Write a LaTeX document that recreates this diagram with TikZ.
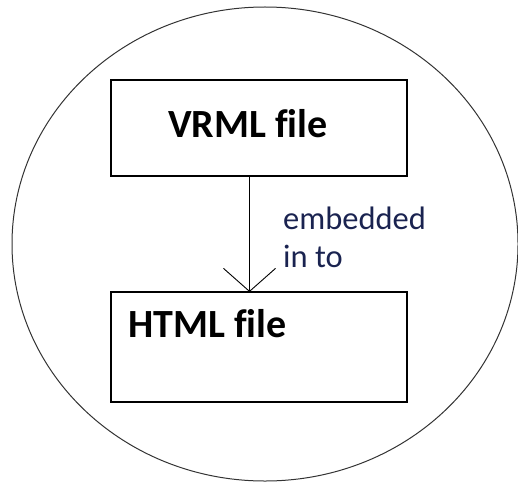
\documentclass[tikz,border=0pt]{standalone}
\usepackage{fontspec}
\setmainfont[Ligatures=NoCommon]{Carlito}
\usetikzlibrary{arrows.meta}
\definecolor{labelblue}{HTML}{1A2350}
\tikzset{
  filebox/.style={draw=black, line width=1.5pt, minimum width=296pt, inner sep=0pt},
  boxtitle/.style={anchor=base west, inner sep=0pt, font=\fontsize{40}{44}\selectfont\bfseries},
  edgelabel/.style={anchor=base west, inner sep=0pt, text=labelblue, font=\fontsize{32.5}{38}\selectfont},
  openvee/.style={-{Straight Barb[length=23pt, width=52pt, line width=0.9pt]}}
}
\begin{document}
\begin{tikzpicture}[x=1pt, y=-1pt]
  \useasboundingbox (0,0) rectangle (518,481);
  \clip (0,0) rectangle (518,481);
  % outer ellipse
  \draw[line width=1pt, black!80] (265,244) ellipse [x radius=253, y radius=237];
  % the two file boxes
  \node[filebox, minimum height=96pt] (vrml) at (259,128) {};
  \node[filebox, minimum height=110pt] (html) at (259,347) {};
  \node[boxtitle] (vrmltext) at (168,137) {VRML file};
  \node[boxtitle] (htmltext) at (128,337) {HTML file};
  % connector
  \coordinate (src) at (249.5,176);
  \coordinate (dst) at (249.5,292);
  \draw[line width=1.2pt, openvee] (src) -- (dst);
  \node[edgelabel] (lab1) at (283,229) {embedded};
  \node[edgelabel] (lab2) at (283,267) {in to};
\end{tikzpicture}
\end{document}
